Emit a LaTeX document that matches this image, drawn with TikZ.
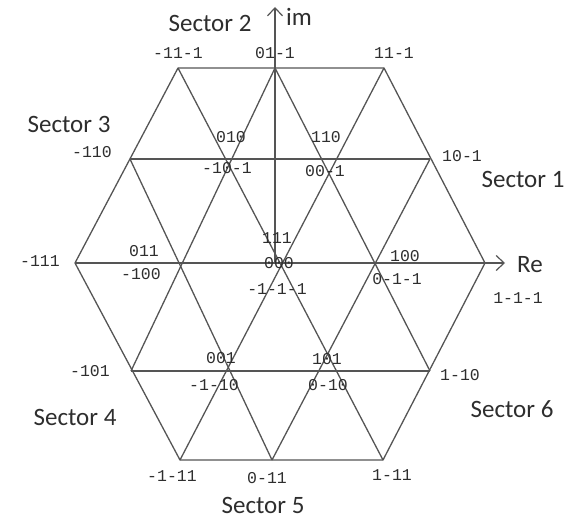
\documentclass[tikz,border=0pt]{standalone}
\usepackage{fontspec}
\setmainfont{Carlito}
\newfontfamily\vecfont{Liberation Mono}
\usetikzlibrary{arrows.meta}
\usepackage{xcolor}
\definecolor{gridgray}{HTML}{555555}
\definecolor{textgray}{HTML}{2E2E2E}

\begin{document}
\begin{tikzpicture}[x=1pt,y=-1pt,
  grid/.style={draw=gridgray,line width=1.3pt,line join=round},
  axis/.style={grid,-{Straight Barb[length=8pt,width=15pt,line width=1.2pt]}},
  vec/.style={font=\vecfont\fontsize{16.5}{18}\selectfont,text=textgray,inner sep=0pt},
  sector/.style={font=\fontsize{25}{30}\selectfont,text=textgray,inner sep=0pt}
]
  \useasboundingbox (0,0) rectangle (575,519);

  % lattice points
  \coordinate (O)  at (275,263);
  \coordinate (A0) at (485,263);
  \coordinate (A1) at (384,68);
  \coordinate (A2) at (178,68);
  \coordinate (A3) at (75,263);
  \coordinate (A4) at (180,460);
  \coordinate (A5) at (383,460);
  \coordinate (M1) at (430,159);
  \coordinate (M2) at (275,68);
  \coordinate (M3) at (130,159);
  \coordinate (M4) at (131,371);
  \coordinate (M5) at (272,460);
  \coordinate (M6) at (430,371);
  \coordinate (retip) at (505,263);
  \coordinate (imtip) at (275,7);

  % hexagon and inner lines
  \draw[grid] (A0) -- (A1) -- (A2) -- (A3) -- (A4) -- (A5) -- cycle;
  \foreach \p/\q in {M3/M1,M4/M6,M4/M2,A4/A1,M5/M1,M3/M5,A2/A5,M2/M6}
    \draw[grid] (\p) -- (\q);

  % axes
  \draw[axis] (A3) -- (retip);
  \draw[axis] (O) -- (imtip);
  \node[sector] (re) at (530,265) {Re};
  \node[sector] (im) at (299,17) {im};

  % sectors
  \node[sector] (s1) at (523,179) {Sector 1};
  \node[sector] (s2) at (210,23) {Sector 2};
  \node[sector] (s3) at (69,124) {Sector 3};
  \node[sector] (s4) at (75,417) {Sector 4};
  \node[sector] (s5) at (263,505) {Sector 5};
  \node[sector] (s6) at (512,409) {Sector 6};

  % switching states
  \node[vec] (vA2) at (178,53) {-11-1};
  \node[vec] (vM2) at (275,53) {01-1};
  \node[vec] (vA1) at (394,53) {11-1};
  \node[vec] (vM3) at (92,152) {-110};
  \node[vec] (vM1) at (462,156) {10-1};
  \node[vec] (v010) at (231,137) {010};
  \node[vec] (vm10m1) at (227,168) {-10-1};
  \node[vec] (v110) at (326,137) {110};
  \node[vec] (v00m1) at (325,171) {00-1};
  \node[vec] (vA3) at (40,261) {-111};
  \node[vec] (v011) at (144,251) {011};
  \node[vec] (vm100) at (141,274) {-100};
  \node[vec] (v111) at (277,238) {111};
  \node[vec] (v000) at (279,263) {000};
  \node[vec] (vm1m1m1) at (277,289) {-1-1-1};
  \node[vec] (v100) at (405,256) {100};
  \node[vec] (v0m1m1) at (397,279) {0-1-1};
  \node[vec] (vA0) at (518,298) {1-1-1};
  \node[vec] (vM4) at (90,371) {-101};
  \node[vec] (v001) at (221,358) {001};
  \node[vec] (vm1m10) at (214,385) {-1-10};
  \node[vec] (v101) at (327,359) {101};
  \node[vec] (v0m10) at (328,385) {0-10};
  \node[vec] (vM6) at (460,375) {1-10};
  \node[vec] (vA4) at (172,476) {-1-11};
  \node[vec] (vM5) at (267,478) {0-11};
  \node[vec] (vA5) at (392,475) {1-11};
\end{tikzpicture}
\end{document}
